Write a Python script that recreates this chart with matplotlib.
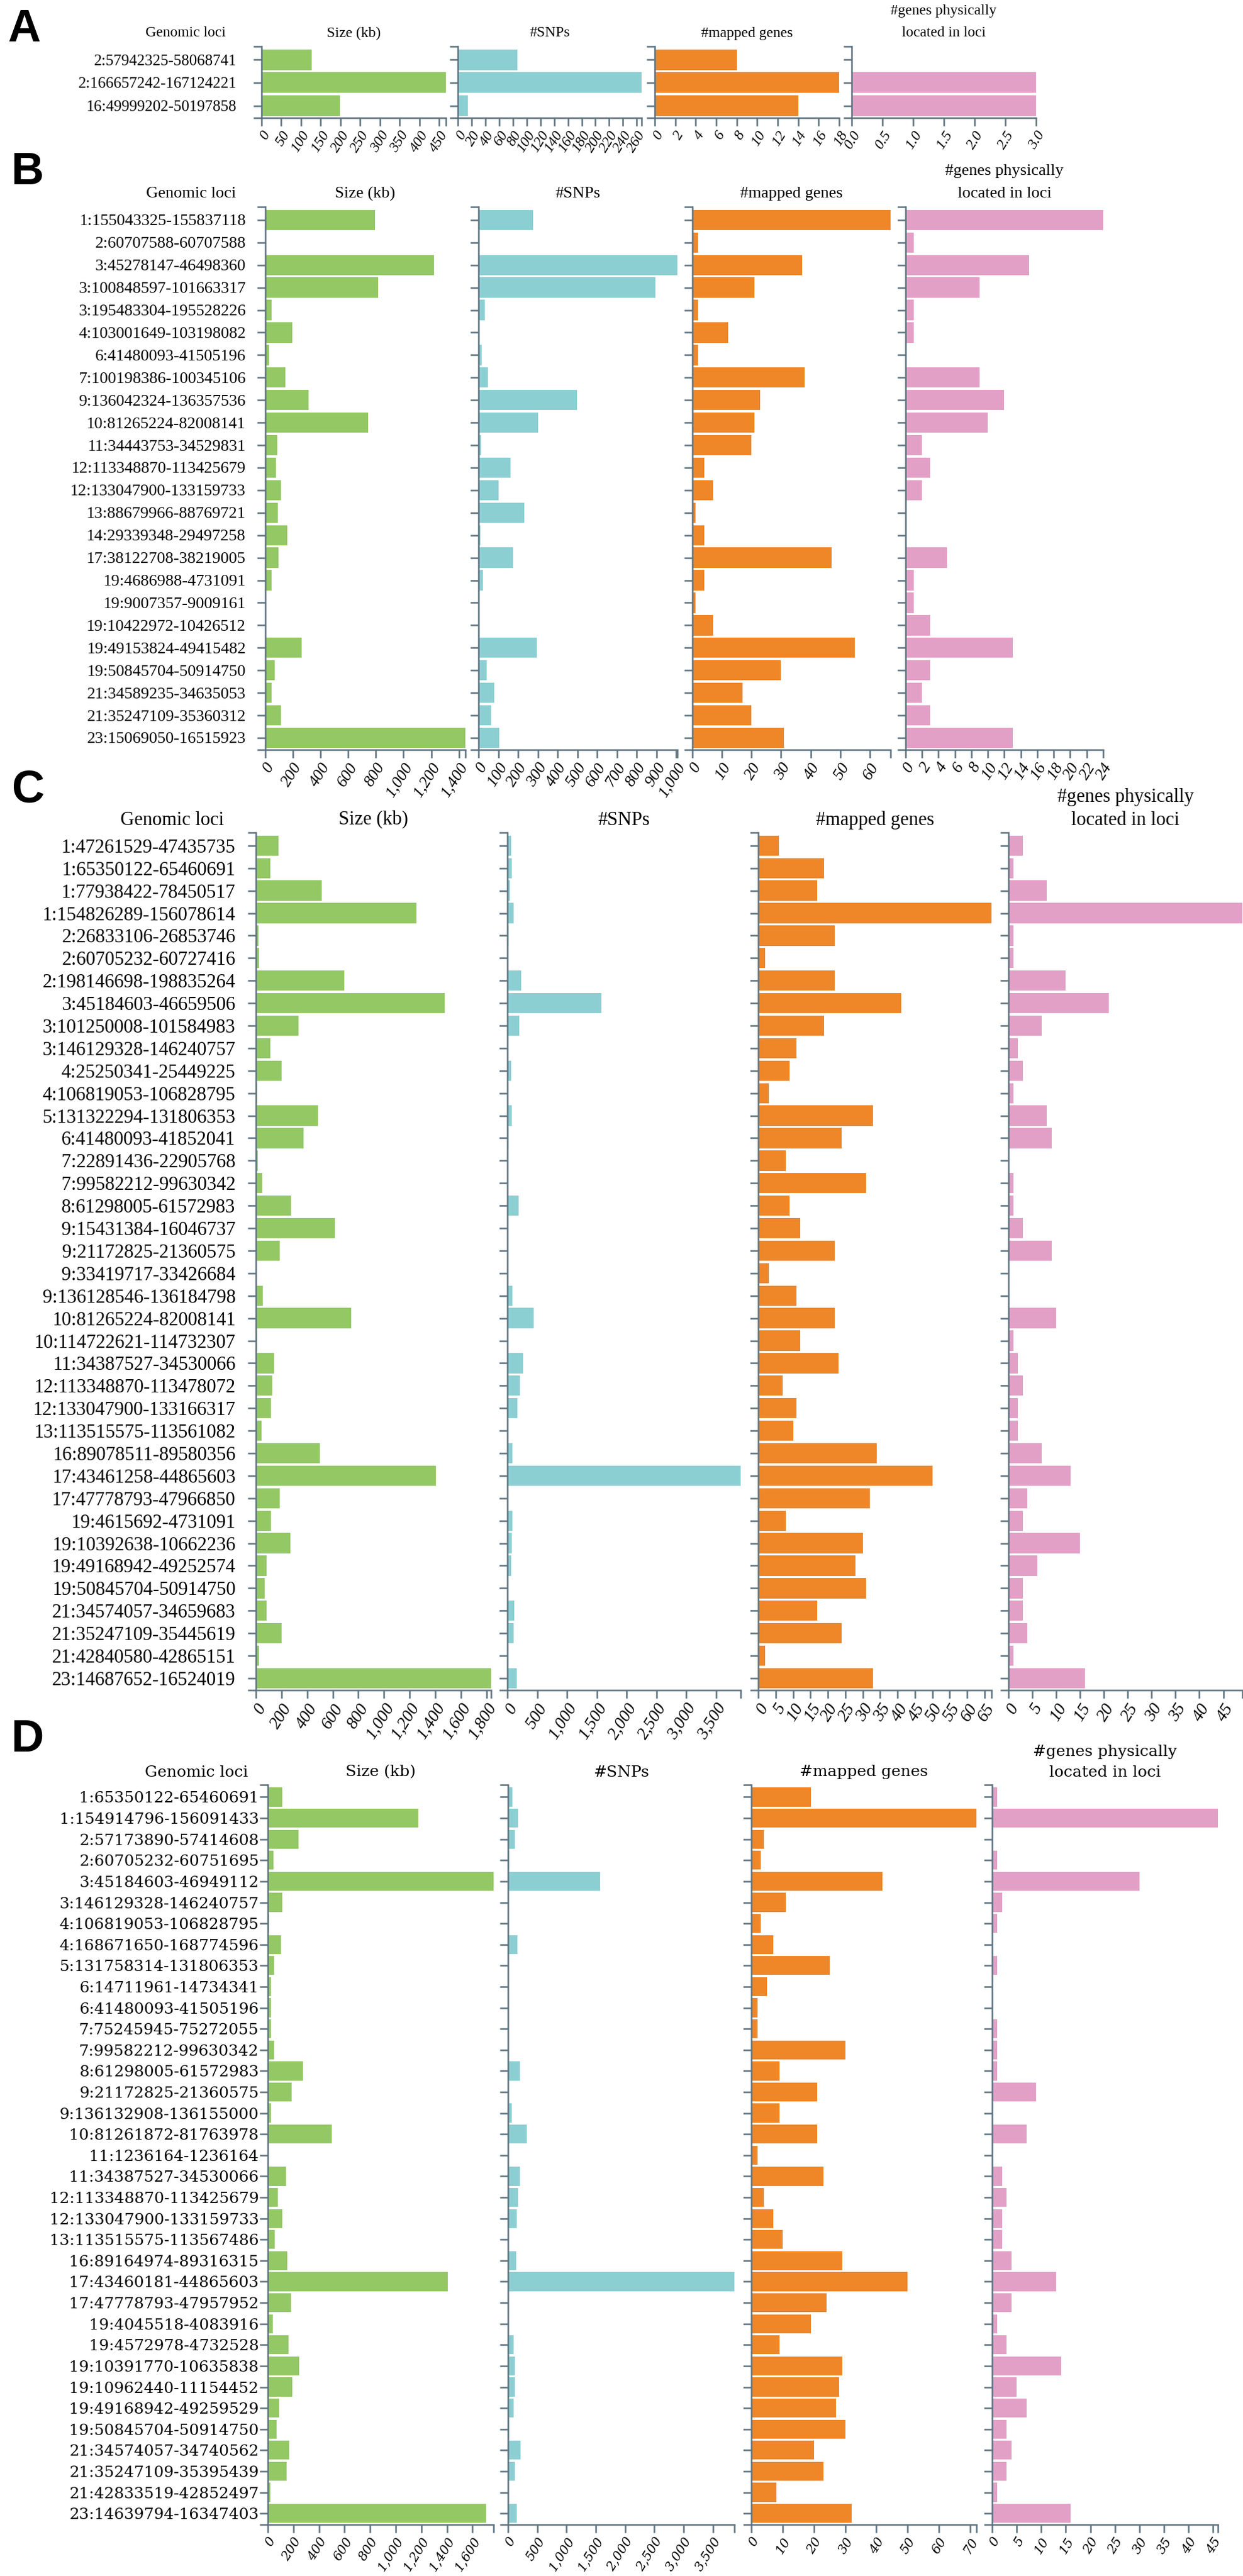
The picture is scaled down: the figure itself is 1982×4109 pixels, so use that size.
import numpy as np
import matplotlib.pyplot as plt
from matplotlib.lines import Line2D

# ---------- data ----------
# panel A
loci_a = ["2:57942325-58068741", "2:166657242-167124221", "16:49999202-50197858"]
size_a = [126.4, 467.0, 198.7]
snps_a = [87, 267, 15]
mapped_a = [8, 18, 14]
physical_a = [0, 3, 3]

# panel B
loci_b = ["1:155043325-155837118", "2:60707588-60707588", "3:45278147-46498360",
          "3:100848597-101663317", "3:195483304-195528226", "4:103001649-103198082",
          "6:41480093-41505196", "7:100198386-100345106", "9:136042324-136357536",
          "10:81265224-82008141", "11:34443753-34529831", "12:113348870-113425679",
          "12:133047900-133159733", "13:88679966-88769721", "14:29339348-29497258",
          "17:38122708-38219005", "19:4686988-4731091", "19:9007357-9009161",
          "19:10422972-10426512", "19:49153824-49415482", "19:50845704-50914750",
          "21:34589235-34635053", "21:35247109-35360312", "23:15069050-16515923"]
size_b = [793.8, 0.0, 1220.2, 814.7, 44.9, 196.4, 25.1, 146.7, 315.2, 742.9, 86.1, 76.8,
          111.8, 89.8, 157.9, 96.3, 44.1, 1.8, 3.5, 261.7, 69.0, 45.8, 113.2, 1446.9]
snps_b = [276, 1, 1006, 895, 32, 2, 16, 47, 499, 300, 12, 162,
          103, 233, 8, 176, 22, 1, 1, 296, 41, 79, 63, 105]
mapped_b = [67, 2, 37, 21, 2, 12, 2, 38, 23, 21, 20, 4,
            7, 1, 4, 47, 4, 1, 7, 55, 30, 17, 20, 31]
physical_b = [24, 1, 15, 9, 1, 1, 0, 9, 12, 10, 2, 3,
              2, 0, 0, 5, 1, 1, 3, 13, 3, 2, 3, 13]

# panel C
loci_c = ["1:47261529-47435735", "1:65350122-65460691", "1:77938422-78450517",
          "1:154826289-156078614", "2:26833106-26853746", "2:60705232-60727416",
          "2:198146698-198835264", "3:45184603-46659506", "3:101250008-101584983",
          "3:146129328-146240757", "4:25250341-25449225", "4:106819053-106828795",
          "5:131322294-131806353", "6:41480093-41852041", "7:22891436-22905768",
          "7:99582212-99630342", "8:61298005-61572983", "9:15431384-16046737",
          "9:21172825-21360575", "9:33419717-33426684", "9:136128546-136184798",
          "10:81265224-82008141", "10:114722621-114732307", "11:34387527-34530066",
          "12:113348870-113478072", "12:133047900-133166317", "13:113515575-113561082",
          "16:89078511-89580356", "17:43461258-44865603", "17:47778793-47966850",
          "19:4615692-4731091", "19:10392638-10662236", "19:49168942-49252574",
          "19:50845704-50914750", "21:34574057-34659683", "21:35247109-35445619",
          "21:42840580-42865151", "23:14687652-16524019"]
size_c = [174.2, 110.6, 512.1, 1252.3, 20.6, 22.2, 688.6, 1474.9, 335.0, 111.4,
          198.9, 9.7, 484.1, 371.9, 14.3, 48.1, 275.0, 615.4, 187.8, 7.0,
          56.3, 742.9, 9.7, 142.5, 129.2, 118.4, 45.5, 501.8, 1404.3, 188.1,
          115.4, 269.6, 83.6, 69.0, 85.6, 198.5, 24.6, 1836.4]
snps_c = [60, 77, 43, 103, 20, 5, 232, 1583, 198, 5,
          60, 3, 77, 20, 2, 3, 189, 5, 5, 2,
          86, 447, 3, 267, 215, 168, 8, 86, 3915, 5,
          86, 69, 60, 15, 120, 103, 3, 163]
mapped_c = [6, 19, 17, 67, 22, 2, 22, 41, 19, 11,
            9, 3, 33, 24, 8, 31, 9, 12, 22, 3,
            11, 22, 12, 23, 7, 11, 10, 34, 50, 32,
            8, 30, 28, 31, 17, 24, 2, 33]
physical_c = [3, 1, 8, 49, 1, 1, 12, 21, 7, 2,
              3, 1, 8, 9, 0, 1, 1, 3, 9, 0,
              0, 10, 1, 2, 3, 2, 2, 7, 13, 4,
              3, 15, 6, 3, 3, 4, 1, 16]

# panel D
loci_d = ["1:65350122-65460691", "1:154914796-156091433", "2:57173890-57414608",
          "2:60705232-60751695", "3:45184603-46949112", "3:146129328-146240757",
          "4:106819053-106828795", "4:168671650-168774596", "5:131758314-131806353",
          "6:14711961-14734341", "6:41480093-41505196", "7:75245945-75272055",
          "7:99582212-99630342", "8:61298005-61572983", "9:21172825-21360575",
          "9:136132908-136155000", "10:81261872-81763978", "11:1236164-1236164",
          "11:34387527-34530066", "12:113348870-113425679", "12:133047900-133159733",
          "13:113515575-113567486", "16:89164974-89316315", "17:43460181-44865603",
          "17:47778793-47957952", "19:4045518-4083916", "19:4572978-4732528",
          "19:10391770-10635838", "19:10962440-11154452", "19:49168942-49259529",
          "19:50845704-50914750", "21:34574057-34740562", "21:35247109-35395439",
          "21:42833519-42852497", "23:14639794-16347403"]
size_d = [110.6, 1176.6, 240.7, 46.5, 1764.5, 111.4, 9.7, 102.9, 48.0, 22.4,
          25.1, 26.1, 48.1, 275.0, 187.8, 22.1, 502.1, 0.0, 142.5, 76.8,
          111.8, 51.9, 151.3, 1405.4, 179.2, 38.4, 159.6, 244.1, 192.0, 90.6,
          69.0, 166.5, 148.3, 19.0, 1707.6]
snps_d = [70, 175, 123, 20, 1570, 5, 3, 158, 10, 2,
          5, 3, 10, 200, 5, 65, 325, 1, 202, 175,
          149, 3, 140, 3868, 5, 3, 96, 123, 114, 96,
          26, 210, 114, 3, 149]
mapped_d = [19, 72, 4, 3, 42, 11, 3, 7, 25, 5,
            2, 2, 30, 9, 21, 9, 21, 2, 23, 4,
            7, 10, 29, 50, 24, 19, 9, 29, 28, 27,
            30, 20, 23, 8, 32]
physical_d = [1, 46, 0, 1, 30, 2, 1, 0, 1, 0,
              0, 1, 1, 1, 9, 0, 7, 0, 2, 3,
              2, 2, 4, 13, 4, 1, 3, 14, 5, 7,
              3, 4, 3, 1, 16]

# ---------- style ----------
W, H = 1983, 4109
GREEN, TEAL, ORANGE, PINK = "#93c865", "#8ccfd3", "#ef8627", "#e2a0c6"
AXIS = "#5f7480"
LW = 1.8       # axis line width (pt)
TL = 13        # tick length (px)
HEADERS = ["Size (kb)", "#SNPs", "#mapped genes", "located in loci"]

fig = plt.figure(figsize=(W / 100, H / 100), dpi=100)


def fx(x):
    return x / W


def fy(y):
    return 1 - y / H


def fmt_tick(t, dec):
    return f"{t:.1f}" if dec else f"{int(round(t)):,}"


def draw_panel(letter, loci, cols, lay):
    fam = lay["family"]
    top, bot = lay["top"], lay["bottom"]
    n = len(loci)

    fig.text(fx(lay["letter"][0]), fy(lay["letter"][1]), letter, ha="center", va="center",
             fontsize=52, fontweight="bold", family="Liberation Sans")
    fig.text(fx(lay["label_right"] - 16), fy(lay["head_y"]), "Genomic loci",
             ha="right", va="center", fontsize=lay["head_fs"], family=fam)

    for k, (vals, color, ticks, dec) in enumerate(cols):
        x0, x1 = lay["axes"][k]
        ax = fig.add_axes([fx(x0), fy(bot), (x1 - x0) / W, (bot - top) / H])
        ax.barh(np.arange(n), vals, height=0.9, color=color, linewidth=0)
        ax.set_ylim(n - 0.47, -0.58)
        xmax = max(vals)
        ax.set_xlim(0, xmax)

        for s in ("top", "right"):
            ax.spines[s].set_visible(False)
        for s in ("left", "bottom"):
            ax.spines[s].set_color(AXIS)
            ax.spines[s].set_linewidth(LW)

        # y ticks (loci labels only on the first axis)
        ax.set_yticks(np.arange(n))
        if k == 0:
            ax.set_yticklabels(loci, fontsize=lay["label_fs"], family=fam)
        else:
            ax.set_yticklabels([])
        ax.tick_params(axis="y", length=TL * 0.72, width=LW, color=AXIS, pad=lay["ypad"])

        # x ticks + outer tick at the domain end
        pos = list(ticks)
        labs = [fmt_tick(t, dec) for t in ticks]
        if xmax - pos[-1] > 1e-6 * xmax:
            pos.append(xmax)
            labs.append("")
        ax.set_xticks(pos)
        ax.set_xticklabels(labs, rotation=58, ha="right", va="top", rotation_mode="anchor",
                           fontsize=lay["tick_fs"], family=fam, style="italic")
        ax.tick_params(axis="x", length=TL * 0.72, width=LW, color=AXIS, pad=3)

        # outer ticks of the y domain (top and bottom)
        for yy in (top, bot):
            fig.add_artist(Line2D([fx(x0 - TL), fx(x0)], [fy(yy), fy(yy)],
                                  color=AXIS, lw=LW, solid_capstyle="butt"))

        cx = (x0 + x1) / 2
        fig.text(fx(cx), fy(lay["head_y"]), HEADERS[k], ha="center", va="center",
                 fontsize=lay["head_fs"], family=fam)
        if k == 3:
            fig.text(fx(cx), fy(lay["head2_y"]), "#genes physically", ha="center",
                     va="center", fontsize=lay["head_fs"], family=fam)


# ---------- A ----------
draw_panel("A", loci_a, [
    (size_a, GREEN, np.arange(0, 451, 50), False),
    (snps_a, TEAL, np.arange(0, 261, 20), False),
    (mapped_a, ORANGE, np.arange(0, 19, 2), False),
    (physical_a, PINK, np.arange(0, 3.01, 0.5), True),
], dict(family="Liberation Serif", letter=(38, 47), head_y=53, head2_y=18,
        top=74, bottom=188, label_right=376,
        axes=[(417, 711), (730, 1023), (1044, 1338), (1358, 1652)],
        label_fs=18, head_fs=17, tick_fs=17, ypad=19))

# ---------- B ----------
draw_panel("B", loci_b, [
    (size_b, GREEN, np.arange(0, 1401, 200), False),
    (snps_b, TEAL, np.arange(0, 1001, 100), False),
    (mapped_b, ORANGE, np.arange(0, 61, 10), False),
    (physical_b, PINK, np.arange(0, 25, 2), False),
], dict(family="Liberation Serif", letter=(43, 275), head_y=309, head2_y=273,
        top=330, bottom=1196, label_right=392,
        axes=[(423, 742), (763, 1080), (1104, 1420), (1444, 1759)],
        label_fs=19, head_fs=19, tick_fs=19, ypad=13))

# ---------- C ----------
draw_panel("C", loci_c, [
    (size_c, GREEN, np.arange(0, 1801, 200), False),
    (snps_c, TEAL, np.arange(0, 3501, 500), False),
    (mapped_c, ORANGE, np.arange(0, 66, 5), False),
    (physical_c, PINK, np.arange(0, 46, 5), False),
], dict(family="Liberation Serif", letter=(45, 1261), head_y=1308, head2_y=1272,
        top=1328, bottom=2696, label_right=373,
        axes=[(408, 783), (809, 1181), (1209, 1581), (1608, 1981)],
        label_fs=22, head_fs=22, tick_fs=20, ypad=14))

# ---------- D ----------
draw_panel("D", loci_d, [
    (size_d, GREEN, np.arange(0, 1601, 200), False),
    (snps_d, TEAL, np.arange(0, 3501, 500), False),
    (mapped_d, ORANGE, np.arange(0, 71, 10), False),
    (physical_d, PINK, np.arange(0, 46, 5), False),
], dict(family="DejaVu Serif", letter=(43, 2775), head_y=2827, head2_y=2795,
        top=2847, bottom=4027, label_right=412,
        axes=[(427, 787), (810, 1171), (1198, 1557), (1582, 1942)],
        label_fs=18, head_fs=18, tick_fs=15, ypad=1))

fig.savefig("out.png", dpi=100)
